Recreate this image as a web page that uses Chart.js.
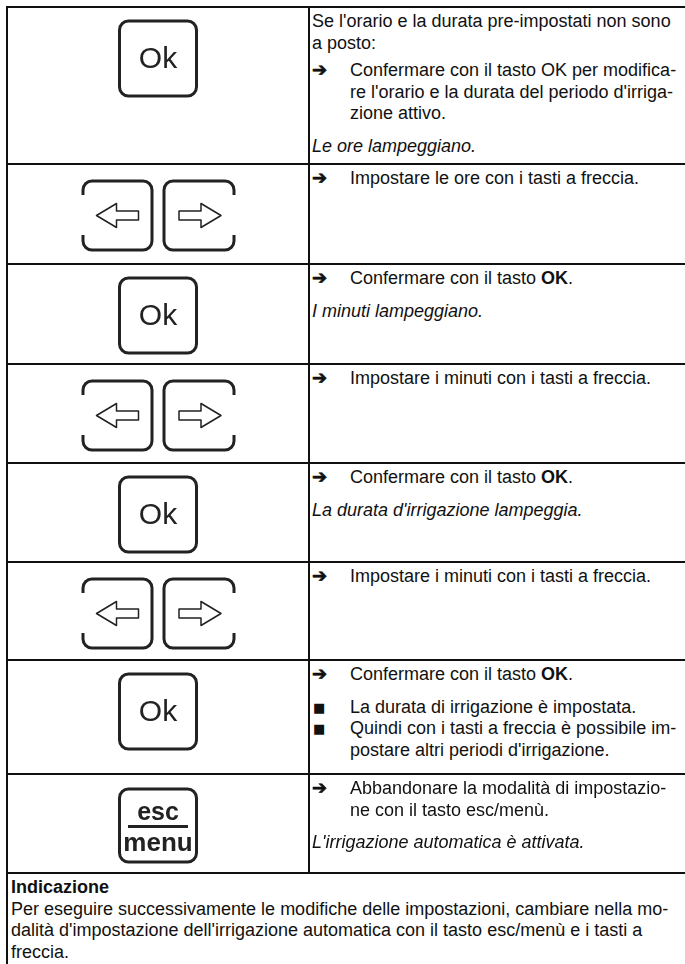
<!DOCTYPE html>
<html>
<head>
<meta charset="utf-8">
<script src="https://cdn.jsdelivr.net/npm/chart.js@4.4.0/dist/chart.umd.min.js"></script>
<style>
  html, body { margin: 0; padding: 0; background: #fff; }
  body { width: 685px; height: 964px; overflow: hidden; position: relative;
         font-family: "Liberation Sans", Arial, sans-serif; font-size: 18px; line-height: 21.6px; color: #111; }
  .row { position: absolute; left: 6px; width: 700px; box-sizing: border-box;
         border-top: 2px solid #111; border-left: 2px solid #111; }
  .icon { position: absolute; left: 0; top: 0; width: 300px; height: 100%; border-right: 2px solid #111; }
  .icon canvas { position: absolute; left: 0; top: 0; }
  .lbl { position: absolute; left: 0; width: 300px; text-align: center; color: #222; }
  .txt { position: absolute; left: 304px; top: 0; padding-top: 3px; white-space: nowrap; }
  .item { position: relative; }
  .item + .item { margin-top: 6px; }
  .item + .i, .arrow + .sq { margin-top: 11px; }
  .sq + .sq { margin-top: 0; }
  .arrow, .sq { padding-left: 38px; }
  .arrow::before { content: "\2794"; position: absolute; left: 0; top: -1px;
                   font-family: "DejaVu Sans"; font-size: 18px; font-weight: bold;
                   -webkit-text-stroke: 0.7px #111; }
  .sq::before { content: "\25A0"; position: absolute; left: 1px; top: 0;
                font-family: "DejaVu Sans"; font-size: 13px; }
  .i { font-style: italic; }
  .note { position: absolute; left: 6px; width: 700px; height: 200px; box-sizing: border-box;
          border-top: 2px solid #111; border-left: 2px solid #111; padding: 3px 0 0 3px; white-space: nowrap; }
</style>
</head>
<body>
<script>
// one key per table row
var rowKeys = ['ok', 'arrows', 'ok', 'arrows', 'ok', 'arrows', 'ok', 'esc'];

// text of the right column, one list of paragraphs per row
var rowNotes = [
  [ { k: 'p', t: ["Se l'orario e la durata pre-impostati non sono", "a posto:"] },
    { k: 'arrow', t: ["Confermare con il tasto OK per modifica-", "re l'orario e la durata del periodo d'irriga-", "zione attivo."] },
    { k: 'i', t: ["Le ore lampeggiano."] } ],
  [ { k: 'arrow', t: ["Impostare le ore con i tasti a freccia."] } ],
  [ { k: 'arrow', t: ["Confermare con il tasto <b>OK</b>."] },
    { k: 'i', t: ["I minuti lampeggiano."] } ],
  [ { k: 'arrow', t: ["Impostare i minuti con i tasti a freccia."] } ],
  [ { k: 'arrow', t: ["Confermare con il tasto <b>OK</b>."] },
    { k: 'i', t: ["La durata d'irrigazione lampeggia."] } ],
  [ { k: 'arrow', t: ["Impostare i minuti con i tasti a freccia."] } ],
  [ { k: 'arrow', t: ["Confermare con il tasto <b>OK</b>."] },
    { k: 'sq', t: ["La durata di irrigazione è impostata."] },
    { k: 'sq', t: ["Quindi con i tasti a freccia è possibile im-", "postare altri periodi d'irrigazione."] } ],
  [ { k: 'arrow', t: ["Abbandonare la modalità di impostazio-", "ne con il tasto esc/menù."] },
    { k: 'i', t: ["L'irrigazione automatica è attivata."] } ]
];

var noteTitle = 'Indicazione';
var noteLines = [
  "Per eseguire successivamente le modifiche delle impostazioni, cambiare nella mo-",
  "dalità d'impostazione dell'irrigazione automatica con il tasto esc/menù e i tasti a",
  "freccia."
];

// page layout: y of each horizontal rule
var ruleY = [7, 164, 264, 364, 463, 562, 660, 774, 873];

function roundRect(ctx, x, y, w, h, r) {
  ctx.beginPath();
  ctx.moveTo(x + r, y);
  ctx.arcTo(x + w, y, x + w, y + h, r);
  ctx.arcTo(x + w, y + h, x, y + h, r);
  ctx.arcTo(x, y + h, x, y, r);
  ctx.arcTo(x, y, x + w, y, r);
  ctx.closePath();
}

// key with an opening in the outer side
function openKey(ctx, x, y, w, h, r, side) {
  var g1 = 14, g2 = 15;
  ctx.beginPath();
  if (side === 'left') {
    ctx.moveTo(x, y + g1);
    ctx.arcTo(x, y, x + w, y, r);
    ctx.arcTo(x + w, y, x + w, y + h, r);
    ctx.arcTo(x + w, y + h, x, y + h, r);
    ctx.arcTo(x, y + h, x, y, r);
    ctx.lineTo(x, y + h - g2);
  } else {
    ctx.moveTo(x + w, y + g1);
    ctx.arcTo(x + w, y, x, y, r);
    ctx.arcTo(x, y, x, y + h, r);
    ctx.arcTo(x, y + h, x + w, y + h, r);
    ctx.arcTo(x + w, y + h, x + w, y, r);
    ctx.lineTo(x + w, y + h - g2);
  }
  ctx.stroke();
}

function arrowShape(ctx, cx, cy, dir) {
  var pts = [[-21, 0], [-1, -12], [-1, -4.5], [21, -4.5], [21, 4.5], [-1, 4.5], [-1, 12]];
  ctx.beginPath();
  pts.forEach(function (p, i) {
    var px = cx + p[0] * dir, py = cy + p[1];
    if (i === 0) ctx.moveTo(px, py); else ctx.lineTo(px, py);
  });
  ctx.closePath();
  ctx.stroke();
}

var keyIcon = {
  id: 'keyIcon',
  afterDraw: function (chart, args, opts) {
    var ctx = chart.ctx;
    var cx = 150;
    ctx.save();
    ctx.strokeStyle = '#222';
    ctx.lineJoin = 'round';
    if (opts.type === 'ok') {
      ctx.lineWidth = 3;
      roundRect(ctx, cx - 38.5, 13, 77, 75, 9);
      ctx.stroke();
    } else if (opts.type === 'esc') {
      ctx.lineWidth = 3;
      roundRect(ctx, cx - 38.5, 14, 77, 73, 9);
      ctx.stroke();
      ctx.beginPath();
      ctx.moveTo(cx - 30, 51.5);
      ctx.lineTo(cx + 30, 51.5);
      ctx.stroke();
    } else {
      ctx.lineWidth = 3;
      openKey(ctx, 75, 16, 69, 69, 9, 'left');
      openKey(ctx, 156, 16, 70, 69, 9, 'right');
      ctx.lineWidth = 1.5;
      arrowShape(ctx, 109.5, 50.5, 1);
      arrowShape(ctx, 192, 50.5, -1);
    }
    ctx.restore();
  }
};

rowKeys.forEach(function (key, r) {
  var h = ruleY[r + 1] - ruleY[r];
  var row = document.createElement('div');
  row.className = 'row';
  row.style.top = (ruleY[r] - 1) + 'px';
  row.style.height = h + 'px';

  var icon = document.createElement('div');
  icon.className = 'icon';
  var cv = document.createElement('canvas');
  cv.width = 300;
  cv.height = h - 2;
  icon.appendChild(cv);
  if (key === 'ok') {
    icon.insertAdjacentHTML('beforeend', '<div class="lbl" style="top:32px;font-size:30px;line-height:36px">Ok</div>');
  } else if (key === 'esc') {
    icon.insertAdjacentHTML('beforeend',
      '<div class="lbl" style="top:22px;font-size:25px;line-height:28px;font-weight:bold">esc</div>' +
      '<div class="lbl" style="top:52px;font-size:26px;line-height:30px;font-weight:bold">menu</div>');
  }
  row.appendChild(icon);

  var txt = document.createElement('div');
  txt.className = 'txt';
  txt.innerHTML = rowNotes[r].map(function (p) {
    return '<div class="item ' + p.k + '">' + p.t.join('<br>') + '</div>';
  }).join('');
  row.appendChild(txt);
  document.body.appendChild(row);

  new Chart(cv, {
    type: 'scatter',
    data: { datasets: [] },
    options: {
      responsive: false,
      animation: false,
      events: [],
      layout: { padding: 0 },
      scales: { x: { display: false }, y: { display: false } },
      plugins: { legend: { display: false }, tooltip: { enabled: false }, keyIcon: { type: key } }
    },
    plugins: [keyIcon]
  });
});

var note = document.createElement('div');
note.className = 'note';
note.style.top = (ruleY[ruleY.length - 1] - 1) + 'px';
note.innerHTML = '<b>' + noteTitle + '</b><br>' + noteLines.join('<br>');
document.body.appendChild(note);
</script>
</body>
</html>
